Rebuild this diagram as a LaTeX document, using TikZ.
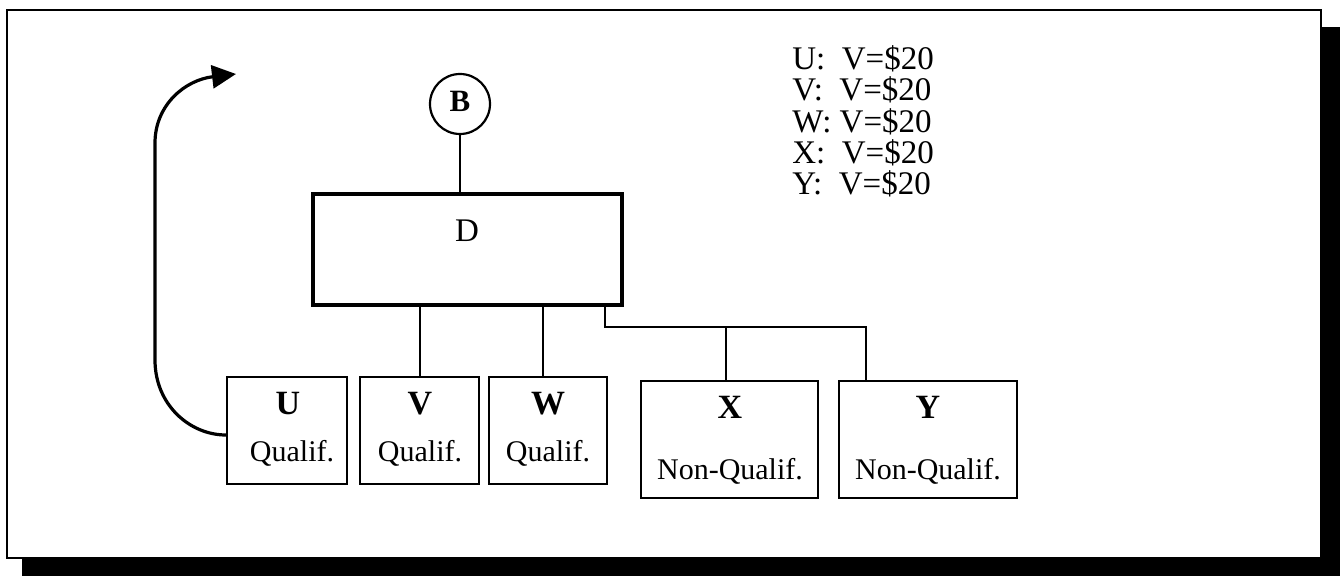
\documentclass[tikz,border=0pt]{standalone}
\usepackage{fontspec}
\setmainfont{Liberation Serif}
\usetikzlibrary{arrows.meta}
\begin{document}
\begin{tikzpicture}[x=0.5pt,y=-0.5pt,
  box/.style={draw, line width=1.1pt, rectangle, inner sep=0pt},
  bigbox/.style={draw, line width=1.8pt, rectangle, inner sep=0pt},
  conn/.style={line width=1.1pt},
  letter/.style={font=\fontsize{17}{19}\selectfont\bfseries, inner sep=0pt, anchor=base},
  sub/.style={font=\fontsize{15}{17}\selectfont, inner sep=0pt, anchor=base},
  legend/.style={font=\fontsize{16.5}{18}\selectfont, inner sep=0pt, anchor=base west}]
\useasboundingbox (0,0) rectangle (1344,576);
% frame with shadow
\fill[black] (22,27) rectangle (1340,576);
\draw[line width=1.3pt, fill=white] (7,10) rectangle (1321,558);

% boxes
\node[bigbox, minimum width=154.5pt, minimum height=55.5pt] (D) at (467.5,249.5) {};
\node[font=\fontsize{16.5}{18}\selectfont, inner sep=0pt, anchor=base] (Dl) at (467,242) {D};
\node[draw, circle, line width=1.1pt, minimum size=30pt, inner sep=0pt] (B) at (460,104) {};
\node[font=\fontsize{15.5}{17}\selectfont\bfseries, inner sep=0pt, anchor=base] (Bl) at (460,112) {B};

\node[box, minimum width=60pt, minimum height=53.5pt] (U) at (287,430.5) {};
\node[box, minimum width=59.5pt, minimum height=53.5pt] (V) at (419.5,430.5) {};
\node[box, minimum width=59pt, minimum height=53.5pt] (W) at (548,430.5) {};
\node[box, minimum width=88.5pt, minimum height=58.5pt] (X) at (729.5,439.5) {};
\node[box, minimum width=89pt, minimum height=58.5pt] (Y) at (928,439.5) {};

\node[letter] (Ul) at (288,415) {U};
\node[sub] (Us) at (292,462) {Qualif.};
\node[letter] (Vl) at (420,415) {V};
\node[sub] (Vs) at (420,462) {Qualif.};
\node[letter] (Wl) at (548,415) {W};
\node[sub] (Ws) at (548,462) {Qualif.};
\node[letter] (Xl) at (730,419) {X};
\node[sub] (Xs) at (730,480) {Non-Qualif.};
\node[letter] (Yl) at (928,419) {Y};
\node[sub] (Ys) at (928,480) {Non-Qualif.};

% legend
\node[legend] (L1) at (792,70) {U:\ \ V=\$20};
\node[legend] (L2) at (792,101) {V:\ \ V=\$20};
\node[legend] (L3) at (792,133) {W: V=\$20};
\node[legend] (L4) at (792,164) {X:\ \ V=\$20};
\node[legend] (L5) at (792,195) {Y:\ \ V=\$20};

% connectors
\draw[conn] (B.south) -- (B.south |- D.north);
\draw[conn] (D.south -| 420,0) -- (V.north -| 420,0);
\draw[conn] (D.south -| 543,0) -- (W.north -| 543,0);
\draw[conn] (D.south -| 605,0) -- (605,327) -| (Y.north -| 866,0);
\draw[conn] (726,327) -- (X.north -| 726,0);

% return arrow
\draw[line width=1.6pt, -{Triangle[length=12pt,width=11.5pt]}]
  (U.west |- 0,435) .. controls (190,435) and (155,405) .. (155,360)
  -- (155,143) .. controls (155,105) and (185,80) .. (236,74);
\end{tikzpicture}
\end{document}
